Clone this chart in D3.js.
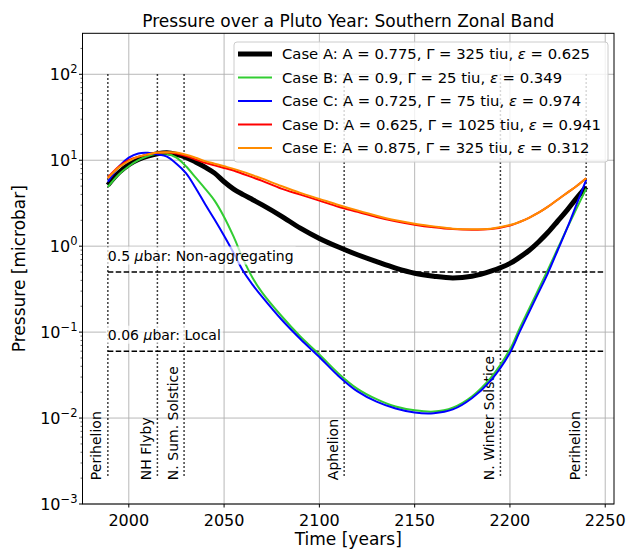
<!DOCTYPE html>
<html>
<head>
<meta charset="utf-8">
<script src="https://cdn.jsdelivr.net/npm/d3@7"></script>
<style>
  html, body { margin: 0; padding: 0; background: #fff; }
  svg { display: block; font-family: "DejaVu Sans", sans-serif; }
</style>
</head>
<body>
<svg id="chart" width="629" height="550"></svg>
<script>
// Sample years shared by every case (perihelion to perihelion)
const years = [1989, 1995, 2000, 2005, 2010, 2015, 2020, 2025, 2030, 2035, 2040, 2045, 2050, 2055, 2060, 2065, 2070,
               2080, 2090, 2100, 2110, 2120, 2130, 2140, 2150, 2160, 2170, 2180, 2190, 2200, 2205, 2210, 2215,
               2220, 2225, 2230, 2235, 2240];

// Surface pressure, microbar
const caseA = [5.13, 7.24, 8.91, 10.2, 11.2, 11.9, 12.2, 11.7, 10.8, 9.55, 8.32, 7.08, 5.62, 4.62, 3.98, 3.47, 3.02,
               2.24, 1.62, 1.23, 0.977, 0.794, 0.661, 0.556, 0.484, 0.447, 0.427, 0.447, 0.513, 0.631, 0.741, 0.891, 1.12,
               1.45, 1.95, 2.63, 3.63, 4.90];
const caseB = [4.90, 6.92, 8.51, 10.0, 11.2, 11.9, 11.9, 10.7, 8.51, 6.31, 4.68, 3.39, 2.19, 1.29, 0.708, 0.427, 0.288,
               0.155, 0.0891, 0.0550, 0.0331, 0.0219, 0.0166, 0.0136, 0.0123, 0.0119, 0.0132, 0.0178, 0.0295, 0.0631, 0.110, 0.186, 0.316,
               0.537, 0.933, 1.62, 2.75, 4.68];
const caseC = [5.62, 8.51, 10.7, 12.0, 12.2, 11.7, 11.0, 9.12, 7.08, 4.79, 3.09, 2.04, 1.32, 0.832, 0.513, 0.355, 0.257,
               0.141, 0.0832, 0.0513, 0.0309, 0.0204, 0.0155, 0.0129, 0.0116, 0.0114, 0.0126, 0.0170, 0.0275, 0.0575, 0.100, 0.170, 0.288,
               0.490, 0.891, 1.62, 3.09, 5.89];
const caseD = [6.31, 8.51, 10.0, 11.0, 11.7, 12.2, 12.3, 12.0, 11.2, 10.2, 9.33, 8.71, 8.13, 7.59, 6.92, 6.31, 5.75,
               4.68, 3.98, 3.39, 2.88, 2.51, 2.19, 1.95, 1.78, 1.66, 1.58, 1.55, 1.58, 1.74, 1.91, 2.14, 2.45,
               2.88, 3.47, 4.17, 5.01, 6.17];
const caseE = [6.17, 8.32, 9.77, 11.0, 11.7, 12.3, 12.4, 12.3, 11.6, 10.7, 9.77, 9.12, 8.51, 7.94, 7.33, 6.68, 6.10,
               5.01, 4.17, 3.55, 3.02, 2.60, 2.26, 2.00, 1.82, 1.70, 1.60, 1.57, 1.60, 1.76, 1.91, 2.14, 2.45,
               2.88, 3.47, 4.17, 5.01, 6.17];

// Model parameters per case
const caseNames  = ["A", "B", "C", "D", "E"];
const albedos    = ["0.775", "0.9", "0.725", "0.625", "0.875"];
const inertias   = ["325", "25", "75", "1025", "325"];
const emissivity = ["0.625", "0.349", "0.974", "0.941", "0.312"];
const caseColors = ["#000000", "#32cd32", "#0000ff", "#ff0000", "#ff8c00"];
const caseWidths = [5, 2, 2, 2, 2];

// Orbital events
const eventYears  = [1989, 2015, 2029, 2113, 2195, 2240];
const eventLabels = ["Perihelion", "NH Flyby", "N. Sum. Solstice", "Aphelion", "N. Winter Solstice", "Perihelion"];

// Reference pressure levels
const levelValues = [0.5, 0.06];
const levelLabels = [["0.5 ", "μ", "bar: Non-aggregating"], ["0.06 ", "μ", "bar: Local"]];

// Axis ticks
const xTicks = [2000, 2050, 2100, 2150, 2200, 2250];
const yExponents = [-3, -2, -1, 0, 1, 2];

const series = [caseA, caseB, caseC, caseD, caseE];

const svg = d3.select("#chart");
const L = 82.5, R = 614, T = 33.3, B = 504;

const x = d3.scaleLinear().domain([1975.7, 2254.6]).range([L, R]);
const y = d3.scaleLog().domain([1e-3, Math.pow(10, 2.477)]).range([B, T]);

// grid
const grid = svg.append("g").attr("stroke", "#b0b0b0").attr("stroke-width", 0.9);
xTicks.forEach(t => grid.append("line").attr("x1", x(t)).attr("x2", x(t)).attr("y1", T).attr("y2", B));
yExponents.forEach(e => grid.append("line").attr("x1", L).attr("x2", R).attr("y1", y(Math.pow(10, e))).attr("y2", y(Math.pow(10, e))));

// event markers
const ev = svg.append("g");
eventYears.forEach((yr, i) => {
  ev.append("line")
    .attr("x1", x(yr)).attr("x2", x(yr))
    .attr("y1", y(100)).attr("y2", y(0.002))
    .attr("stroke", "#000").attr("stroke-width", 1.5)
    .attr("stroke-dasharray", "1.5,2.5");
  ev.append("text")
    .attr("transform", `translate(${x(yr) - 6.5},${y(0.002) + 2}) rotate(-90)`)
    .attr("font-size", 14).attr("fill", "#000")
    .text(eventLabels[i]);
});

// reference levels
levelValues.forEach(v => {
  svg.append("line")
    .attr("x1", x(1989)).attr("x2", x(2250))
    .attr("y1", y(v)).attr("y2", y(v))
    .attr("stroke", "#000").attr("stroke-width", 1.5)
    .attr("stroke-dasharray", "5.5,2.4");
});

// pressure curves
const line = d3.line()
  .x((d, i) => x(years[i]))
  .y(d => y(d))
  .curve(d3.curveCatmullRom.alpha(0.5));

series.forEach((s, i) => {
  svg.append("path")
    .attr("d", line(s))
    .attr("fill", "none")
    .attr("stroke", caseColors[i])
    .attr("stroke-width", caseWidths[i])
    .attr("stroke-linejoin", "round");
});

// level annotations with a translucent backing box
levelValues.forEach((v, i) => {
  const g = svg.append("g");
  const rect = g.append("rect");
  const t = g.append("text")
    .attr("x", x(1989)).attr("y", y(v) - 11.5)
    .attr("font-size", 14).attr("fill", "#000");
  t.append("tspan").text(levelLabels[i][0]);
  t.append("tspan").attr("font-style", "italic").text(levelLabels[i][1]);
  t.append("tspan").text(levelLabels[i][2]);
  const bb = t.node().getBBox();
  rect.attr("x", bb.x - 2).attr("y", bb.y - 1).attr("width", bb.width + 4).attr("height", bb.height + 2)
      .attr("fill", "#fff").attr("fill-opacity", 0.7);
});

// frame
svg.append("rect").attr("x", L).attr("y", T).attr("width", R - L).attr("height", B - T)
  .attr("fill", "none").attr("stroke", "#000").attr("stroke-width", 1);

// x axis ticks and labels
xTicks.forEach(t => {
  svg.append("line").attr("x1", x(t)).attr("x2", x(t)).attr("y1", B).attr("y2", B + 3.5).attr("stroke", "#000");
  svg.append("text").attr("x", x(t)).attr("y", B + 22).attr("text-anchor", "middle")
    .attr("font-size", 16).text(t);
});

// y axis ticks (major + log minor)
yExponents.forEach(e => {
  const p = Math.pow(10, e);
  svg.append("line").attr("x1", L - 3.5).attr("x2", L).attr("y1", y(p)).attr("y2", y(p)).attr("stroke", "#000");
  const lab = svg.append("text").attr("x", L - 5).attr("y", y(p) + 6).attr("text-anchor", "end").attr("font-size", 16);
  lab.append("tspan").text("10");
  lab.append("tspan").attr("dy", -7).attr("font-size", 11.5).text(e < 0 ? "\u2212" + Math.abs(e) : String(e));
  for (let k = 2; k <= 9; k++) {
    const m = k * p;
    if (m > y.domain()[1]) break;
    svg.append("line").attr("x1", L - 2).attr("x2", L).attr("y1", y(m)).attr("y2", y(m)).attr("stroke", "#000").attr("stroke-width", 0.6);
  }
});

// title and axis labels
svg.append("text").attr("x", (L + R) / 2).attr("y", 27).attr("text-anchor", "middle")
  .attr("font-size", 17).text("Pressure over a Pluto Year: Southern Zonal Band");
svg.append("text").attr("x", (L + R) / 2).attr("y", 545).attr("text-anchor", "middle")
  .attr("font-size", 17).text("Time [years]");
svg.append("text").attr("transform", `translate(25,${(T + B) / 2}) rotate(-90)`).attr("text-anchor", "middle")
  .attr("font-size", 17).text("Pressure [microbar]");

// legend
const lg = svg.append("g");
lg.append("rect").attr("x", 234).attr("y", 42).attr("width", 374).attr("height", 120).attr("rx", 3)
  .attr("fill", "#fff").attr("fill-opacity", 0.8).attr("stroke", "#cccccc").attr("stroke-width", 1);
caseNames.forEach((n, i) => {
  const cy = 54 + i * 23.5;
  lg.append("line").attr("x1", 238).attr("x2", 272).attr("y1", cy).attr("y2", cy)
    .attr("stroke", caseColors[i]).attr("stroke-width", caseWidths[i]);
  const t = lg.append("text").attr("x", 282).attr("y", cy + 5).attr("font-size", 14.8);
  t.append("tspan").text(`Case ${n}: A = ${albedos[i]}, \u0393 = ${inertias[i]} tiu, `);
  t.append("tspan").attr("font-style", "italic").text("\u03b5");
  t.append("tspan").text(` = ${emissivity[i]}`);
});
</script>
</body>
</html>
